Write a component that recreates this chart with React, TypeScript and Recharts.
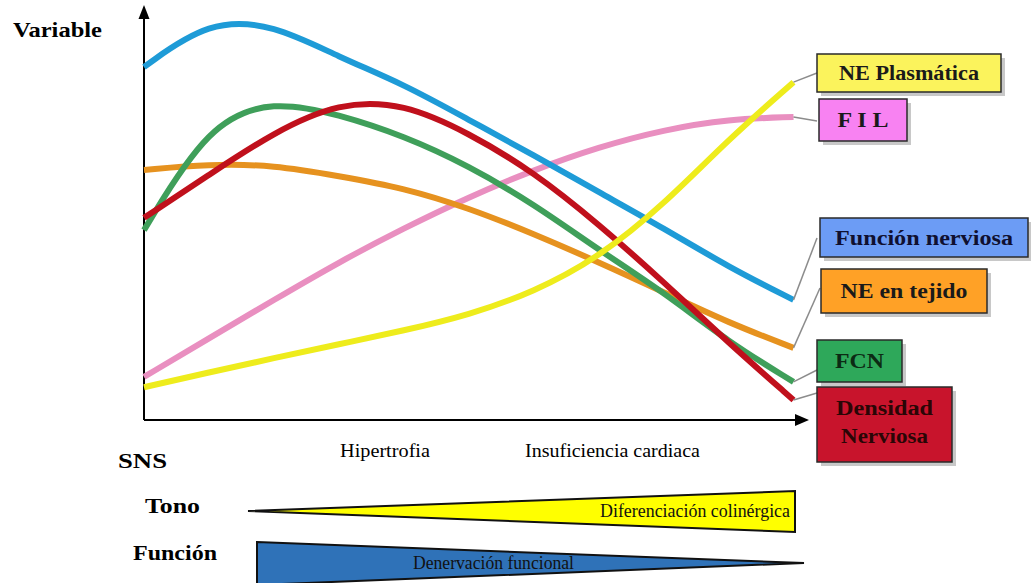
import React from 'react'
import { ComposedChart, Line, XAxis, YAxis, ReferenceLine } from 'recharts'

// progression along the x axis (0 = start, 100 = end of curves)
const X_STEPS = [0, 10, 20, 30, 40, 50, 60, 70, 80, 90, 100]

const FUNCION_NERVIOSA = [86.1, 97.5, 96.5, 88.5, 81.9, 73.2, 64.6, 55.6, 46.8, 37.3, 29.3]
const FCN = [46.3, 72.5, 78.0, 74.5, 69.3, 62.0, 52.7, 41.5, 31.2, 19.0, 9.3]
const DENSIDAD = [49.3, 59.8, 70.2, 77.5, 77.3, 70.0, 60.5, 47.8, 33.7, 18.8, 4.9]
const NE_TEJIDO = [61.0, 62.4, 62.2, 59.5, 56.6, 51.7, 45.4, 38.5, 31.2, 23.7, 17.6]
const FIL = [10.5, 19.9, 29.3, 38.5, 46.8, 54.4, 61.0, 66.6, 70.8, 73.4, 73.9]
const NE_PLASMATICA = [8.0, 11.6, 15.1, 18.5, 21.8, 25.6, 31.2, 39.6, 52.5, 68.5, 82.4]

const STAGE_LABELS = ['Hipertrofia', 'Insuficiencia cardiaca']

const data = X_STEPS.map((x, i) => ({
  x,
  fil: FIL[i],
  tejido: NE_TEJIDO[i],
  fcn: FCN[i],
  densidad: DENSIDAD[i],
  funcion: FUNCION_NERVIOSA[i],
  plasma: NE_PLASMATICA[i],
}))

// draw order: later ones on top
const SERIES = [
  { key: 'fil', color: '#e98fc0', leader: [817, 121] },
  { key: 'tejido', color: '#e6921f', leader: [820, 288] },
  { key: 'fcn', color: '#3f9f5a', leader: [817, 370] },
  { key: 'densidad', color: '#c0101c', leader: [817, 393] },
  { key: 'funcion', color: '#1e9bd7', leader: [817, 238] },
  { key: 'plasma', color: '#eeec1c', leader: [817, 73] },
]

const BOXES = [
  { lines: ['NE Plasmática'], x: 817, y: 54, w: 184, h: 38, fill: '#fbf35c', ink: '#1a1a1a', tl: [140] },
  { lines: ['F I L'], x: 819, y: 99, w: 88, h: 42, fill: '#f882f2', ink: '#1a1a1a', tl: [51] },
  { lines: ['Función nerviosa'], x: 820, y: 218, w: 208, h: 39, fill: '#6c9cf5', ink: '#101030', tl: [178] },
  { lines: ['NE en tejido'], x: 821, y: 269, w: 166, h: 44, fill: '#ffa126', ink: '#1a1a1a', tl: [127] },
  { lines: ['FCN'], x: 817, y: 340, w: 85, h: 42, fill: '#2ea85a', ink: '#0c2a14', tl: [49] },
  { lines: ['Densidad', 'Nerviosa'], x: 817, y: 387, w: 135, h: 75, fill: '#c8142c', ink: '#2a0606', tl: [97, 87] },
]

const serif = "'Liberation Serif', 'Times New Roman', Times, serif"
const txt = { fontFamily: serif }

const leaderLabel = (tx: number, ty: number) => (props: any) => {
  if (props.index !== X_STEPS.length - 1) return null
  return <line x1={props.x} y1={props.y} x2={tx} y2={ty} stroke="#8c8c8c" strokeWidth={1.5} />
}

const Overlay = () => (
  <svg
    width={1031}
    height={583}
    style={{ position: 'absolute', left: 0, top: 0, pointerEvents: 'none' }}
  >
    {/* axis arrow heads */}
    <polygon points="144,5 138.5,19 149.5,19" fill="#000" />
    <polygon points="809,420 795,414 795,426" fill="#000" />

    <text x={13} y={37} style={txt} fontWeight="bold" fontSize={21} textLength={89} lengthAdjust="spacingAndGlyphs">
      Variable
    </text>

    {BOXES.map((b) => (
      <g key={b.lines[0]}>
        <rect x={b.x + 4} y={b.y + 4} width={b.w} height={b.h} fill="#9a9a9a" opacity={0.55} />
        <rect x={b.x} y={b.y} width={b.w} height={b.h} fill={b.fill} stroke="#2a2a2a" strokeWidth={1.5} />
        {b.lines.map((t, i) => (
          <text
            key={t}
            x={b.x + b.w / 2}
            y={b.lines.length === 1 ? b.y + b.h / 2 + 7 : b.y + 28 + i * 28}
            textAnchor="middle"
            style={txt}
            fontWeight="bold"
            fontSize={20}
            fill={b.ink}
            textLength={b.tl[i]}
            lengthAdjust="spacingAndGlyphs"
          >
            {t}
          </text>
        ))}
      </g>
    ))}

    <text x={118} y={468} style={txt} fontWeight="bold" fontSize={22} textLength={49} lengthAdjust="spacingAndGlyphs">
      SNS
    </text>
    <text x={340} y={457} style={txt} fontSize={18} textLength={90} lengthAdjust="spacingAndGlyphs">
      {STAGE_LABELS[0]}
    </text>
    <text x={525} y={457} style={txt} fontSize={18} textLength={175} lengthAdjust="spacingAndGlyphs">
      {STAGE_LABELS[1]}
    </text>

    <text x={145} y={513} style={txt} fontWeight="bold" fontSize={21} textLength={55} lengthAdjust="spacingAndGlyphs">
      Tono
    </text>
    <polygon points="248,511 795,491 795,532" fill="#ffff00" stroke="#111" strokeWidth={2} />
    <text x={600} y={517} style={txt} fontSize={18} fill="#111" textLength={190} lengthAdjust="spacingAndGlyphs">
      Diferenciación colinérgica
    </text>

    <text x={133} y={560} style={txt} fontWeight="bold" fontSize={22} textLength={84} lengthAdjust="spacingAndGlyphs">
      Función
    </text>
    <polygon points="257,542 804,563 257,585" fill="#2f72b8" stroke="#111" strokeWidth={2} />
    <text x={413} y={569} style={txt} fontSize={18} fill="#111" textLength={161} lengthAdjust="spacingAndGlyphs">
      Denervación funcional
    </text>
  </svg>
)

export default function App() {
  return (
    <div style={{ position: 'absolute', left: 0, top: 0, width: 1031, height: 583, background: '#fff' }}>
      <ComposedChart
        width={1031}
        height={583}
        data={data}
        margin={{ top: 10, right: 231, bottom: 163, left: 144 }}
      >
        <XAxis type="number" dataKey="x" domain={[0, 101]} hide />
        <YAxis type="number" domain={[0, 100]} hide />
        <ReferenceLine y={0} stroke="#000" strokeWidth={2} />
        <ReferenceLine x={0} stroke="#000" strokeWidth={2} />
        {SERIES.map((s) => (
          <Line
            key={s.key}
            type="basis"
            dataKey={s.key}
            stroke={s.color}
            strokeWidth={6}
            dot={false}
            activeDot={false}
            isAnimationActive={false}
            label={leaderLabel(s.leader[0], s.leader[1])}
          />
        ))}
      </ComposedChart>
      <Overlay />
    </div>
  )
}
